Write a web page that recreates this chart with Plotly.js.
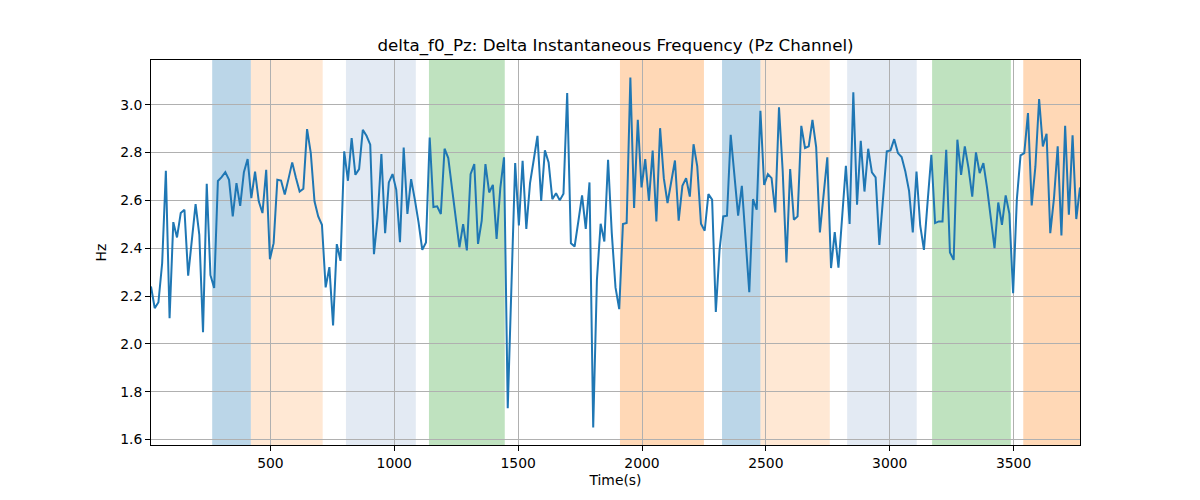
<!DOCTYPE html>
<html>
<head>
<meta charset="utf-8">
<script src="https://cdn.plot.ly/plotly-3.0.1.min.js"></script>
<style>
  html, body { margin: 0; padding: 0; background: #fff; }
  #chart { width: 1200px; height: 500px; }
</style>
</head>
<body>
<div id="chart"></div>
<script>
// sample times (s), one every 15 s
const times = [
  18, 33, 48, 63, 78, 93, 108, 123, 138, 153, 168, 183, 198, 213, 228, 243, 258, 273, 288, 303,
  318, 333, 348, 363, 378, 393, 408, 423, 438, 453, 468, 483, 498, 513, 528, 543, 558, 573, 588, 603,
  618, 633, 648, 663, 678, 693, 708, 723, 738, 753, 768, 783, 798, 813, 828, 843, 858, 873, 888, 903,
  918, 933, 948, 963, 978, 993, 1008, 1023, 1038, 1053, 1068, 1083, 1098, 1113, 1128, 1143, 1158, 1173, 1188, 1203,
  1218, 1233, 1248, 1263, 1278, 1293, 1308, 1323, 1338, 1353, 1368, 1383, 1398, 1413, 1428, 1443, 1458, 1473, 1488, 1503,
  1518, 1533, 1548, 1563, 1578, 1593, 1608, 1623, 1638, 1653, 1668, 1683, 1698, 1713, 1728, 1743, 1758, 1773, 1788, 1803,
  1818, 1833, 1848, 1863, 1878, 1893, 1908, 1923, 1938, 1953, 1968, 1983, 1998, 2013, 2028, 2043, 2058, 2073, 2088, 2103,
  2118, 2133, 2148, 2163, 2178, 2193, 2208, 2223, 2238, 2253, 2268, 2283, 2298, 2313, 2328, 2343, 2358, 2373, 2388, 2403,
  2418, 2433, 2448, 2463, 2478, 2493, 2508, 2523, 2538, 2553, 2568, 2583, 2598, 2613, 2628, 2643, 2658, 2673, 2688, 2703,
  2718, 2733, 2748, 2763, 2778, 2793, 2808, 2823, 2838, 2853, 2868, 2883, 2898, 2913, 2928, 2943, 2958, 2973, 2988, 3003,
  3018, 3033, 3048, 3063, 3078, 3093, 3108, 3123, 3138, 3153, 3168, 3183, 3198, 3213, 3228, 3243, 3258, 3273, 3288, 3303,
  3318, 3333, 3348, 3363, 3378, 3393, 3408, 3423, 3438, 3453, 3468, 3483, 3498, 3513, 3528, 3543, 3558, 3573, 3588, 3603,
  3618, 3633, 3648, 3663, 3678, 3693, 3708, 3723, 3738, 3753, 3768
];

// delta f0 on the Pz channel (Hz)
const deltaF0 = [
  2.240, 2.149, 2.174, 2.337, 2.724, 2.107, 2.509, 2.445, 2.547, 2.561, 2.285, 2.435, 2.584, 2.456, 2.049, 2.669, 2.287, 2.234, 2.681, 2.697,
  2.718, 2.686, 2.533, 2.672, 2.577, 2.718, 2.773, 2.609, 2.720, 2.596, 2.547, 2.728, 2.354, 2.421, 2.686, 2.683, 2.625, 2.690, 2.759, 2.695,
  2.637, 2.649, 2.898, 2.798, 2.596, 2.533, 2.498, 2.236, 2.321, 2.077, 2.417, 2.347, 2.805, 2.682, 2.861, 2.707, 2.731, 2.895, 2.870, 2.833,
  2.375, 2.530, 2.794, 2.463, 2.675, 2.710, 2.644, 2.425, 2.821, 2.543, 2.689, 2.603, 2.508, 2.393, 2.424, 2.863, 2.572, 2.575, 2.543, 2.816,
  2.777, 2.651, 2.526, 2.404, 2.501, 2.391, 2.710, 2.752, 2.418, 2.515, 2.752, 2.633, 2.665, 2.439, 2.651, 2.780, 1.731, 2.250, 2.756, 2.495,
  2.766, 2.481, 2.672, 2.770, 2.870, 2.598, 2.809, 2.759, 2.605, 2.630, 2.600, 2.628, 3.049, 2.421, 2.407, 2.512, 2.621, 2.481, 2.675, 1.650,
  2.268, 2.502, 2.428, 2.770, 2.463, 2.236, 2.145, 2.501, 2.505, 3.114, 2.568, 2.937, 2.654, 2.773, 2.598, 2.808, 2.512, 2.902, 2.693, 2.589,
  2.679, 2.767, 2.515, 2.661, 2.693, 2.616, 2.835, 2.742, 2.502, 2.473, 2.626, 2.603, 2.133, 2.393, 2.533, 2.536, 2.874, 2.714, 2.536, 2.661,
  2.428, 2.216, 2.605, 2.561, 2.975, 2.665, 2.710, 2.693, 2.550, 2.989, 2.721, 2.340, 2.731, 2.519, 2.533, 2.912, 2.819, 2.826, 2.937, 2.823,
  2.466, 2.633, 2.780, 2.317, 2.467, 2.319, 2.533, 2.745, 2.501, 3.052, 2.582, 2.849, 2.637, 2.816, 2.717, 2.696, 2.414, 2.616, 2.805, 2.809,
  2.856, 2.798, 2.781, 2.721, 2.640, 2.466, 2.721, 2.495, 2.393, 2.596, 2.791, 2.505, 2.512, 2.512, 2.812, 2.382, 2.351, 2.854, 2.707, 2.826,
  2.735, 2.616, 2.801, 2.714, 2.756, 2.651, 2.519, 2.400, 2.591, 2.498, 2.621, 2.544, 2.212, 2.603, 2.788, 2.798, 2.965, 2.579, 2.742, 3.024,
  2.826, 2.879, 2.463, 2.609, 2.826, 2.453, 2.912, 2.540, 2.872, 2.522, 2.654
];

// shaded task segments
const bandStarts = [265, 421, 805, 1140, 1911, 2323, 2478, 2828, 3171, 3539];
const bandEnds   = [421, 711, 1087, 1446, 2250, 2478, 2758, 3109, 3489, 3790];
const bandColors = [
  "rgba(31,119,180,0.3)", "rgba(255,127,14,0.18)", "rgba(176,196,222,0.35)", "rgba(44,160,44,0.3)",
  "rgba(255,127,14,0.3)", "rgba(31,119,180,0.3)", "rgba(255,127,14,0.18)", "rgba(176,196,222,0.35)",
  "rgba(44,160,44,0.3)", "rgba(255,127,14,0.3)"
];

const shapes = bandStarts.map(function (s, i) {
    return {
        type: "rect", xref: "x", yref: "paper",
        x0: s, x1: bandEnds[i], y0: 0, y1: 1,
        fillcolor: bandColors[i], line: { width: 0 }, layer: "below"
    };
});

const trace = {
    x: times, y: deltaF0, mode: "lines", type: "scatter",
    line: { color: "#1f77b4", width: 2 }, hoverinfo: "x+y"
};

const yMin = Math.min.apply(null, deltaF0), yMax = Math.max.apply(null, deltaF0);
const pad = (yMax - yMin) * 0.05;

const axisCommon = {
    showline: true, mirror: true, linecolor: "#000", linewidth: 1,
    ticks: "outside", ticklen: 5, tickcolor: "#000",
    showgrid: true, gridcolor: "#b0b0b0", gridwidth: 1,
    zeroline: false,
    tickfont: { family: "DejaVu Sans", size: 13.9, color: "#000" }
};

const layout = {
    width: 1200, height: 500,
    margin: { l: 151, r: 120, t: 60, b: 55 },
    paper_bgcolor: "#fff", plot_bgcolor: "#fff",
    showlegend: false,
    title: {
        text: "delta_f0_Pz: Delta Instantaneous Frequency (Pz Channel)",
        font: { family: "DejaVu Sans", size: 16.7, color: "#000" },
        x: 0.5, xref: "paper", y: 0.898, yanchor: "bottom"
    },
    xaxis: Object.assign({}, axisCommon, {
        range: [times[0], times[times.length - 1]],
        tick0: 0, dtick: 500,
        title: { text: "Time(s)", font: { family: "DejaVu Sans", size: 13.9, color: "#000" }, standoff: 5 }
    }),
    yaxis: Object.assign({}, axisCommon, {
        range: [yMin - pad, yMax + pad],
        tick0: 0, dtick: 0.2, tickformat: ".1f",
        title: { text: "Hz", font: { family: "DejaVu Sans", size: 13.9, color: "#000" }, standoff: 10 }
    }),
    shapes: shapes
};

Plotly.newPlot("chart", [trace], layout, { displayModeBar: false, staticPlot: true });
</script>
</body>
</html>
